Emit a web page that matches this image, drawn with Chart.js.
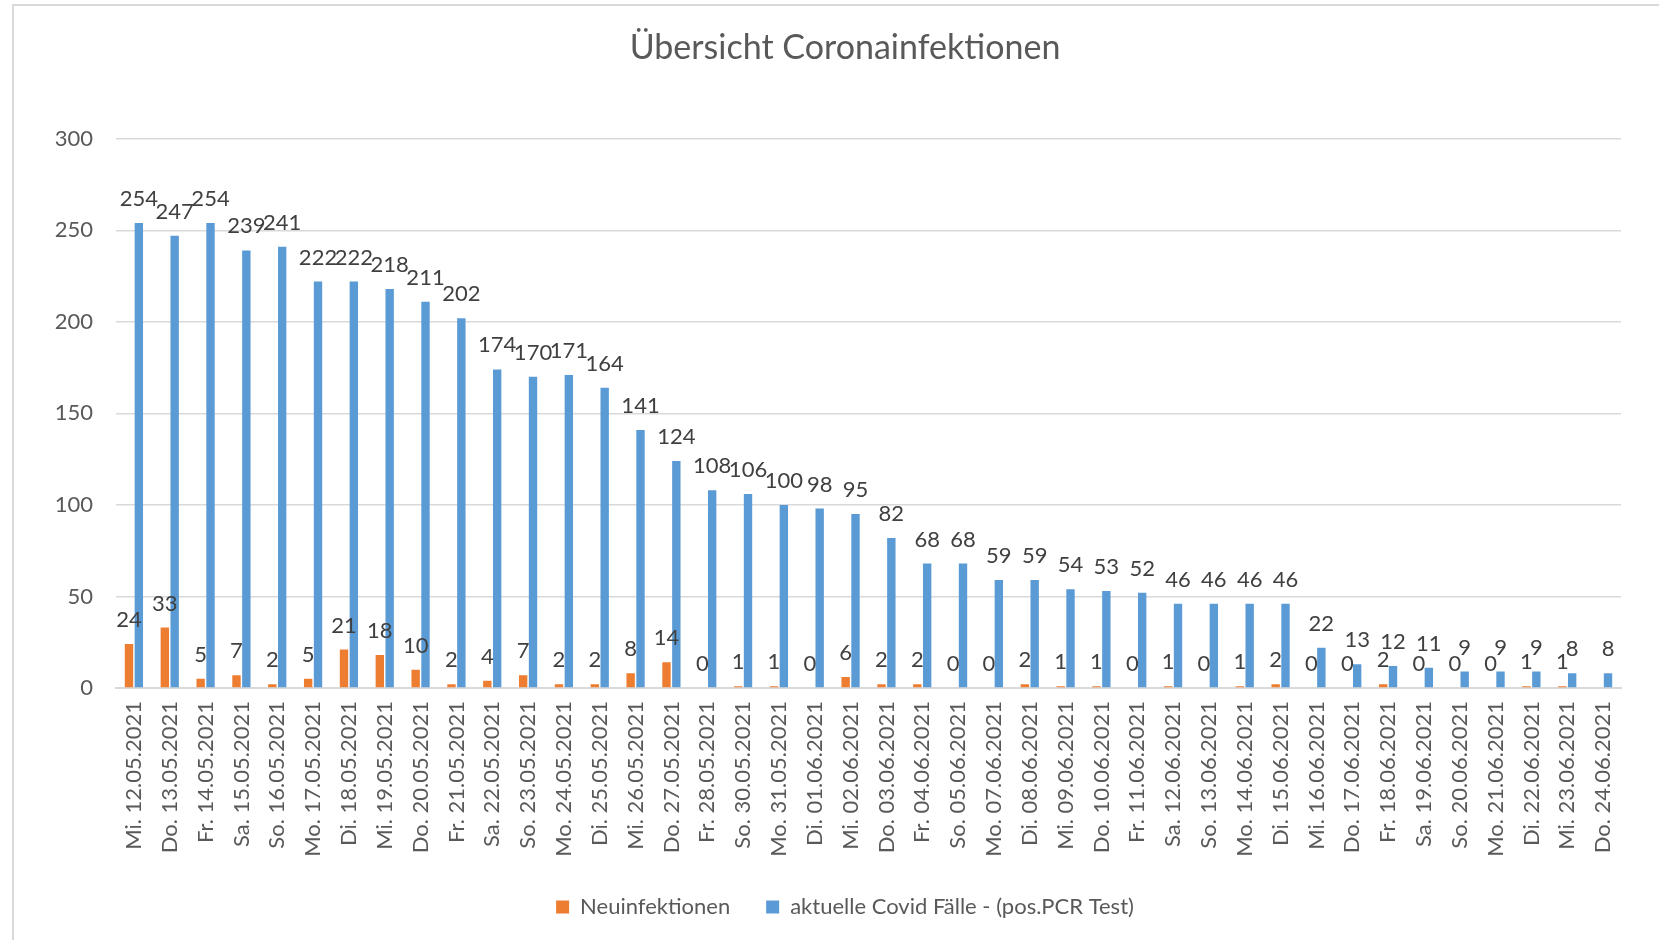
<!DOCTYPE html>
<html>
<head>
<meta charset="utf-8">
<script src="https://cdn.jsdelivr.net/npm/chart.js@4.4.1/dist/chart.umd.min.js"></script>
<style>
  html, body { margin: 0; padding: 0; background: #fff; overflow: hidden; }
  #frame { position: absolute; left: 12px; top: 4px; width: 1700px; height: 1000px;
           border-top: 2px solid #d9d9d9; border-left: 2px solid #d9d9d9; }
  /* the original chart frame runs past the right edge, so the canvas does too */
  #wrap { position: absolute; left: 0; top: 0; width: 1690px; height: 940px; }
</style>
</head>
<body>
<div id="frame"></div>
<div id="wrap"><canvas id="chart"></canvas></div>
<script>
const categories = [
  'Mi. 12.05.2021', 'Do. 13.05.2021', 'Fr. 14.05.2021', 'Sa. 15.05.2021', 'So. 16.05.2021',
  'Mo. 17.05.2021', 'Di. 18.05.2021', 'Mi. 19.05.2021', 'Do. 20.05.2021', 'Fr. 21.05.2021',
  'Sa. 22.05.2021', 'So. 23.05.2021', 'Mo. 24.05.2021', 'Di. 25.05.2021', 'Mi. 26.05.2021',
  'Do. 27.05.2021', 'Fr. 28.05.2021', 'So. 30.05.2021', 'Mo. 31.05.2021', 'Di. 01.06.2021',
  'Mi. 02.06.2021', 'Do. 03.06.2021', 'Fr. 04.06.2021', 'So. 05.06.2021', 'Mo. 07.06.2021',
  'Di. 08.06.2021', 'Mi. 09.06.2021', 'Do. 10.06.2021', 'Fr. 11.06.2021', 'Sa. 12.06.2021',
  'So. 13.06.2021', 'Mo. 14.06.2021', 'Di. 15.06.2021', 'Mi. 16.06.2021', 'Do. 17.06.2021',
  'Fr. 18.06.2021', 'Sa. 19.06.2021', 'So. 20.06.2021', 'Mo. 21.06.2021', 'Di. 22.06.2021',
  'Mi. 23.06.2021', 'Do. 24.06.2021'
];

const neuinfektionen = [24, 33, 5, 7, 2, 5, 21, 18, 10, 2, 4, 7, 2, 2, 8, 14, 0, 1, 1, 0,
  6, 2, 2, 0, 0, 2, 1, 1, 0, 1, 0, 1, 2, 0, 0, 2, 0, 0, 0, 1, 1, null];

const aktuelleFaelle = [254, 247, 254, 239, 241, 222, 222, 218, 211, 202, 174, 170, 171, 164, 141,
  124, 108, 106, 100, 98, 95, 82, 68, 68, 59, 59, 54, 53, 52, 46, 46, 46, 46, 22, 13, 12, 11,
  9, 9, 9, 8, 8];

const yMax = 300;
const yStep = 50;

const FONT = 'Lato, "Open Sans", sans-serif';

// value labels above each bar
const barLabels = {
  id: 'barLabels',
  afterDatasetsDraw(chart) {
    const ctx = chart.ctx;
    ctx.save();
    ctx.font = '22px ' + FONT;
    ctx.fillStyle = '#404040';
    ctx.textAlign = 'center';
    ctx.textBaseline = 'alphabetic';
    chart.data.datasets.forEach((ds, i) => {
      chart.getDatasetMeta(i).data.forEach((bar, j) => {
        const v = ds.data[j];
        if (v === null || v === undefined) return;
        ctx.fillText(String(v), bar.x, bar.y - 17);
      });
    });
    ctx.restore();
  }
};

new Chart(document.getElementById('chart'), {
  type: 'bar',
  data: {
    labels: categories,
    datasets: [
      {
        label: 'Neuinfektionen',
        data: neuinfektionen,
        backgroundColor: '#ED7D31',
        categoryPercentage: 0.55,
        barPercentage: 0.85
      },
      {
        label: 'aktuelle Covid Fälle - (pos.PCR Test)',
        data: aktuelleFaelle,
        backgroundColor: '#5B9BD5',
        categoryPercentage: 0.55,
        barPercentage: 0.85
      }
    ]
  },
  options: {
    responsive: true,
    maintainAspectRatio: false,
    animation: false,
    layout: { padding: { top: 0, left: 0, right: 0, bottom: 12 } },
    plugins: {
      title: {
        display: true,
        text: 'Übersicht Coronainfektionen',
        color: '#595959',
        font: { family: FONT, size: 34, weight: 'normal' },
        padding: { top: 28, bottom: 70 }
      },
      legend: {
        position: 'bottom',
        labels: {
          color: '#595959',
          font: { family: FONT, size: 22 },
          boxWidth: 13,
          boxHeight: 13,
          padding: 36
        }
      },
      tooltip: { enabled: false }
    },
    scales: {
      x: {
        grid: { display: false },
        border: { color: '#d9d9d9', width: 2 },
        ticks: {
          color: '#595959',
          font: { family: FONT, size: 22 },
          minRotation: 90,
          maxRotation: 90,
          autoSkip: false,
          padding: 5
        },
        afterFit: s => { s.height = 172; }
      },
      y: {
        min: 0,
        max: yMax,
        grid: { color: '#d9d9d9', lineWidth: 1.5, drawTicks: false },
        border: { display: false },
        ticks: {
          stepSize: yStep,
          color: '#595959',
          font: { family: FONT, size: 22 },
          padding: 23
        },
        afterFit: s => { s.width = 116; }
      },
      // empty right margin inside the frame
      yRight: {
        position: 'right',
        display: true,
        grid: { display: false },
        border: { display: false },
        ticks: { display: false },
        afterFit: s => { s.width = 69; }
      }
    }
  },
  plugins: [barLabels]
});
</script>
</body>
</html>
